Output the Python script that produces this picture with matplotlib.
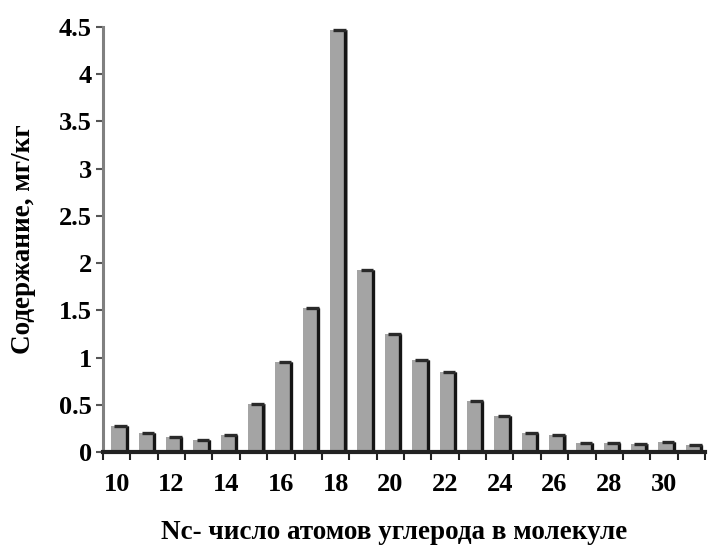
import numpy as np
import matplotlib
matplotlib.use('Agg')
from matplotlib import pyplot as plt

# carbon number and content, mg/kg
carbon = [10, 11, 12, 13, 14, 15, 16, 17, 18, 19, 20,
          21, 22, 23, 24, 25, 26, 27, 28, 29, 30, 31]
content = [0.28, 0.20, 0.16, 0.13, 0.18, 0.51, 0.95, 1.52, 4.47, 1.93, 1.25,
           0.97, 0.85, 0.54, 0.38, 0.20, 0.18, 0.10, 0.10, 0.08, 0.11, 0.07]
yticks = [0, 0.5, 1, 1.5, 2, 2.5, 3, 3.5, 4, 4.5]
ytick_labels = ['0', '0.5', '1', '1.5', '2', '2.5', '3', '3.5', '4', '4.5']

plt.rcParams['font.family'] = ['Liberation Serif', 'DejaVu Serif']
plt.rcParams['font.weight'] = 'bold'

figw, figh = 709, 549
fig = plt.figure(figsize=(figw / 100.0, figh / 100.0), dpi=100)
ax = fig.add_axes([103 / figw, (figh - 452) / figh, 602 / figw, 425 / figh])

x = np.arange(len(carbon))
values = np.array(content)
w = 0.64
xc = x + 0.12  # bars sit a little right of the category centre

# bar faces plus a dark right edge and top to give the raised look
ax.bar(xc, values, width=w, color='#a4a4a4', edgecolor='none', zorder=2)
ax.vlines(xc + w / 2 - 0.08, 0, values, color='#151515', linewidth=2.4, zorder=3)
ax.hlines(values, xc - w / 2 + 0.12, xc + w / 2 - 0.06, color='#2a2a2a',
          linewidth=2.4, zorder=3)

ax.set_xlim(-0.5, len(carbon) - 0.5)
ax.set_ylim(0, 4.5)

# ticks between categories, labels on every second one
ax.set_xticks(np.arange(len(carbon) + 1) - 0.5, minor=False)
ax.set_xticklabels([])
ax.set_xticks(x[::2], minor=True)
ax.set_xticklabels([str(c) for c in carbon[::2]], minor=True)
ax.tick_params(axis='x', which='major', direction='out', length=6, width=1.5,
               color='#222222')
ax.tick_params(axis='x', which='minor', length=0, pad=15, labelsize=19)

ax.set_yticks(yticks)
ax.set_yticklabels(ytick_labels)
ax.tick_params(axis='y', direction='out', length=5, width=1.5,
               color='#555555', labelsize=19, pad=3)

for side in ['top', 'right']:
    ax.spines[side].set_visible(False)
ax.spines['left'].set_color('#808080')
ax.spines['left'].set_linewidth(2.2)
ax.spines['bottom'].set_color('#222222')
ax.spines['bottom'].set_linewidth(3)
ax.spines['bottom'].set_zorder(4)

ax.set_xlabel('Nc- число атомов углерода в молекуле', fontsize=19.5,
              fontweight='bold')
ax.xaxis.set_label_coords(0.483, -0.16)
ax.set_ylabel('Содержание, мг/кг', fontsize=19.5, fontweight='bold')
ax.yaxis.set_label_coords(-0.112, 0.5)

fig.savefig('out.png', dpi=100)
